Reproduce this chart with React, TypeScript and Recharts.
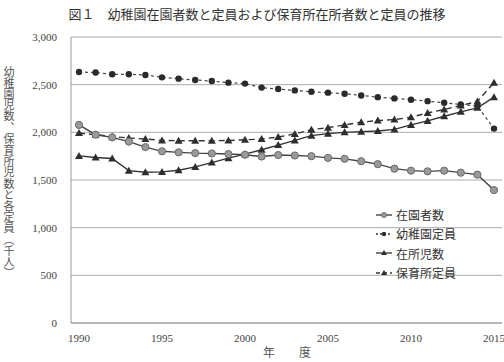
import React from 'react';
import { LineChart, Line, XAxis, YAxis, CartesianGrid } from 'recharts';

const years = [1990, 1991, 1992, 1993, 1994, 1995, 1996, 1997, 1998, 1999, 2000, 2001, 2002, 2003, 2004, 2005, 2006, 2007, 2008, 2009, 2010, 2011, 2012, 2013, 2014, 2015];
const kinderEnrolled = [2078, 1975, 1947, 1903, 1845, 1801, 1790, 1782, 1778, 1772, 1765, 1746, 1762, 1757, 1750, 1732, 1722, 1697, 1666, 1619, 1598, 1591, 1598, 1577, 1556, 1394];
const kinderCapacity = [2633, 2627, 2609, 2609, 2602, 2577, 2563, 2549, 2538, 2521, 2511, 2469, 2455, 2440, 2426, 2416, 2405, 2387, 2369, 2356, 2342, 2327, 2310, 2292, 2274, 2039];
const nurseryEnrolled = [1753, 1736, 1725, 1598, 1581, 1585, 1602, 1637, 1683, 1729, 1771, 1817, 1866, 1915, 1965, 1986, 2000, 2007, 2014, 2031, 2078, 2120, 2169, 2215, 2257, 2369];
const nurseryCapacity = [1992, 1975, 1957, 1940, 1930, 1915, 1912, 1912, 1912, 1915, 1922, 1930, 1951, 1983, 2028, 2049, 2078, 2106, 2123, 2134, 2158, 2204, 2239, 2282, 2324, 2521];
const yTicks = [0, 500, 1000, 1500, 2000, 2500, 3000];

const seriesNames = ['在園者数', '幼稚園定員', '在所児数', '保育所定員'];
const titleText = '図１　幼稚園在園者数と定員および保育所在所者数と定員の推移';
const yLabelText = '幼稚園児数、保育所児数と各定員（千人）';
const xLabelText = '年　　度';

const data = years.map((y, i) => ({
  year: y,
  a: kinderEnrolled[i],
  b: kinderCapacity[i],
  c: nurseryEnrolled[i],
  d: nurseryCapacity[i],
}));

const CJK = '"Noto Sans CJK JP", "Noto Sans", sans-serif';
const SERIF = '"Liberation Serif", "DejaVu Serif", serif';

const GrayCircle = (p: any) => (
  <circle key={p.key ?? `g${p.index}`} cx={p.cx} cy={p.cy} r={3.6} fill="#9a9a9a" stroke="#6a6a6a" strokeWidth={1} />
);
const BlackDot = (p: any) => (
  <circle key={p.key ?? `k${p.index}`} cx={p.cx} cy={p.cy} r={3.2} fill="#2a2a2a" stroke="none" />
);
const Tri = (p: any) => {
  const s = 4;
  const { cx, cy } = p;
  return (
    <path
      key={p.key ?? `t${p.index}`}
      d={`M${cx},${cy - s} L${cx + s},${cy + s * 0.75} L${cx - s},${cy + s * 0.75} Z`}
      fill="#2e2e2e"
      stroke="none"
    />
  );
};

const legendItems = [
  { name: seriesNames[0], dash: undefined as string | undefined, marker: 'gc' },
  { name: seriesNames[1], dash: '2 2', marker: 'bd' },
  { name: seriesNames[2], dash: undefined, marker: 'tr' },
  { name: seriesNames[3], dash: '4 3', marker: 'tr' },
];

const LegendBox = () => (
  <div style={{ position: 'absolute', left: 376, top: 205, fontFamily: CJK, fontSize: 12, color: '#333' }}>
    {legendItems.map((it) => (
      <div key={it.name} style={{ display: 'flex', alignItems: 'center', height: 19.3, lineHeight: '19.3px', whiteSpace: 'nowrap' }}>
        <svg width={18} height={10} style={{ marginRight: 2 }}>
          <line x1={0} y1={5} x2={16} y2={5} stroke="#333" strokeWidth={1.3} strokeDasharray={it.dash} />
          {it.marker === 'gc' && <circle cx={8} cy={5} r={2.6} fill="#9a9a9a" stroke="#6a6a6a" strokeWidth={0.8} />}
          {it.marker === 'bd' && <circle cx={8} cy={5} r={2.2} fill="#2a2a2a" />}
          {it.marker === 'tr' && <path d="M8,2 L11,7 L5,7 Z" fill="#2e2e2e" />}
        </svg>
        <span>{it.name}</span>
      </div>
    ))}
  </div>
);

const YLabel = () => (
  <text
    x={9}
    y={66}
    fill="#555"
    fontSize={11}
    fontFamily={CJK}
    style={{ writingMode: 'vertical-rl' as any, letterSpacing: 0.2 }}
  >
    {yLabelText}
  </text>
);

const XLabel = () => (
  <text x={287} y={357} fill="#555" fontSize={12} fontFamily={CJK} textAnchor="middle">
    {xLabelText}
  </text>
);

export default function App() {
  return (
    <div style={{ position: 'absolute', left: 0, top: 0, width: 504, height: 362, background: '#fff' }}>
      <div
        style={{
          position: 'absolute',
          left: 0,
          top: 5,
          width: 514,
          textAlign: 'center',
          fontFamily: CJK,
          fontSize: 13,
          color: '#333',
          lineHeight: '18px',
          whiteSpace: 'nowrap',
        }}
      >
        {titleText}
      </div>
      <LineChart width={504} height={362} data={data} margin={{ top: 37, right: 2, bottom: 0, left: 0 }}>
        <CartesianGrid vertical={false} stroke="#aaa" strokeWidth={1} />
        <XAxis
          dataKey="year"
          interval={4}
          tickLine={false}
          axisLine={{ stroke: '#999' }}
          tick={{ fill: '#444', fontSize: 11, fontFamily: SERIF }}
          tickMargin={5}
          height={39}
          padding={{ left: 8, right: 8 }}
          label={<XLabel />}
        />
        <YAxis
          width={71}
          domain={[0, 3000]}
          ticks={yTicks}
          tickLine={false}
          axisLine={{ stroke: '#999' }}
          tick={{ fill: '#444', fontSize: 11, fontFamily: SERIF }}
          tickMargin={8}
          tickFormatter={(v: number) => v.toLocaleString('en-US')}
          label={<YLabel />}
        />
        <Line
          dataKey="b"
          name={seriesNames[1]}
          stroke="#444"
          strokeWidth={1.2}
          strokeDasharray="3 3"
          dot={BlackDot}
          isAnimationActive={false}
        />
        <Line
          dataKey="d"
          name={seriesNames[3]}
          stroke="#333"
          strokeWidth={1.4}
          strokeDasharray="6 4"
          dot={Tri}
          isAnimationActive={false}
        />
        <Line
          dataKey="c"
          name={seriesNames[2]}
          stroke="#333"
          strokeWidth={1.4}
          dot={Tri}
          isAnimationActive={false}
        />
        <Line
          dataKey="a"
          name={seriesNames[0]}
          stroke="#444"
          strokeWidth={1.4}
          dot={GrayCircle}
          isAnimationActive={false}
        />
      </LineChart>
      <LegendBox />
    </div>
  );
}
